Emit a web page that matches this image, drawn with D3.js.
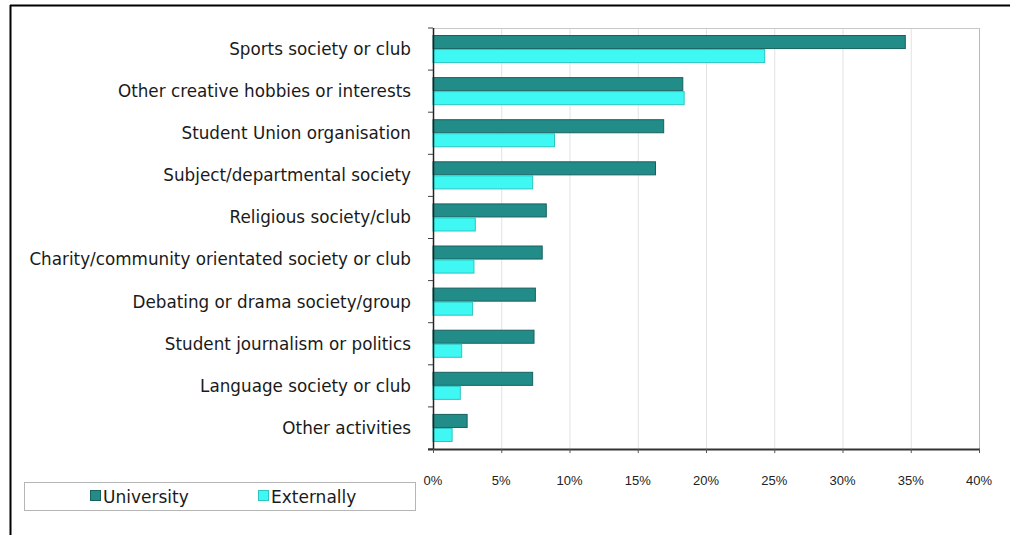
<!DOCTYPE html>
<html><head><meta charset="utf-8">
<script src="https://cdn.jsdelivr.net/npm/d3@7"></script>
<style>
html,body{margin:0;padding:0;background:#fff;}
svg{display:block;}
text{font-family:"Liberation Sans",Arial,sans-serif;}
.lab{font-family:"DejaVu Sans",Verdana,sans-serif;}
</style></head>
<body>
<svg id="chart" width="1010" height="535"></svg>
<script>
const categories = [
  "Sports society or club",
  "Other creative hobbies or interests",
  "Student Union organisation",
  "Subject/departmental society",
  "Religious society/club",
  "Charity/community orientated society or club",
  "Debating or drama society/group",
  "Student journalism or politics",
  "Language society or club",
  "Other activities"
];
const university = [34.6, 18.3, 16.9, 16.3, 8.3, 8.0, 7.5, 7.4, 7.3, 2.5];
const externally = [24.3, 18.4, 8.9, 7.3, 3.1, 3.0, 2.9, 2.1, 2.0, 1.4];
const seriesNames = ["University", "Externally"];
const xTicks = [0, 5, 10, 15, 20, 25, 30, 35, 40];

const colors = {University: "#228c89", Externally: "#40f8f3"};
const strokes = {University: "#17615f", Externally: "#2cc5c0"};

const svg = d3.select("#chart");
const m = {left: 433, right: 979, top: 28, bottom: 449};

// frame
svg.append("line").attr("x1", 10).attr("x2", 1010).attr("y1", 5.5).attr("y2", 5.5)
  .attr("stroke", "#000").attr("stroke-width", 2);
svg.append("line").attr("x1", 10.5).attr("x2", 10.5).attr("y1", 5).attr("y2", 535)
  .attr("stroke", "#000").attr("stroke-width", 2);

const x = d3.scaleLinear().domain([0, 40]).range([m.left, m.right]);
const y = d3.scaleBand().domain(categories).range([m.top, m.bottom]).paddingInner(0.333).paddingOuter(0.1667);
const ySub = d3.scaleBand().domain(seriesNames).range([0, y.bandwidth()]);

// gridlines
svg.append("g").selectAll("line").data(xTicks.slice(1)).join("line")
  .attr("x1", d => x(d) + 0.5).attr("x2", d => x(d) + 0.5)
  .attr("y1", m.top).attr("y2", m.bottom)
  .attr("stroke", d => d === 40 ? "#b8b8b8" : "#e2e2e2").attr("stroke-width", 1);
svg.append("line").attr("x1", m.left).attr("x2", m.right + 1).attr("y1", m.top + 0.5).attr("y2", m.top + 0.5)
  .attr("stroke", "#c8c8c8");

// bars
const rows = categories.map((c, i) => ({c, vals: [
  {s: "University", v: university[i]},
  {s: "Externally", v: externally[i]}
]}));
const g = svg.append("g").selectAll("g").data(rows).join("g")
  .attr("transform", d => `translate(0,${y(d.c)})`);
g.selectAll("rect").data(d => d.vals).join("rect")
  .attr("x", x(0))
  .attr("y", d => ySub(d.s) + 0.5)
  .attr("width", d => x(d.v) - x(0))
  .attr("height", ySub.bandwidth() - 1)
  .attr("fill", d => colors[d.s])
  .attr("stroke", d => strokes[d.s]).attr("stroke-width", 1);

// y axis
const yAxis = svg.append("g");
yAxis.append("line").attr("x1", m.left + 0.5).attr("x2", m.left + 0.5).attr("y1", m.top).attr("y2", m.bottom)
  .attr("stroke", "#222").attr("stroke-width", 1.5);
const boundaries = d3.range(categories.length + 1).map(i => m.top + i * (m.bottom - m.top) / categories.length);
yAxis.selectAll("line.t").data(boundaries).join("line").attr("class", "t")
  .attr("x1", m.left - 5).attr("x2", m.left).attr("y1", d => d).attr("y2", d => d)
  .attr("stroke", "#444");
yAxis.selectAll("text").data(categories).join("text").attr("class", "lab")
  .attr("x", 411).attr("y", d => y(d) + y.bandwidth() / 2)
  .attr("dy", "0.35em").attr("text-anchor", "end")
  .attr("font-size", 16.8).attr("fill", "#1a1a1a").text(d => d);

// x axis
const xAxis = svg.append("g");
xAxis.append("line").attr("x1", m.left - 5).attr("x2", m.right + 1).attr("y1", m.bottom + 0.5).attr("y2", m.bottom + 0.5)
  .attr("stroke", "#333").attr("stroke-width", 2);
xAxis.selectAll("line.t").data(xTicks).join("line").attr("class", "t")
  .attr("x1", d => x(d) + 0.5).attr("x2", d => x(d) + 0.5).attr("y1", m.bottom).attr("y2", m.bottom + 4)
  .attr("stroke", "#555");
xAxis.selectAll("text").data(xTicks).join("text")
  .attr("x", d => x(d)).attr("y", 480).attr("dy", "0.35em").attr("text-anchor", "middle")
  .attr("font-size", 13).attr("fill", "#222").text(d => d + "%");

// legend
const lg = svg.append("g");
lg.append("rect").attr("x", 24.5).attr("y", 482.5).attr("width", 391).attr("height", 28)
  .attr("fill", "#fff").attr("stroke", "#b5b5b5").attr("stroke-width", 1);
const legendPos = [90, 258];
seriesNames.forEach((s, i) => {
  lg.append("rect").attr("x", legendPos[i] + 0.5).attr("y", 490.5).attr("width", 10).attr("height", 10)
    .attr("fill", colors[s]).attr("stroke", strokes[s]);
  lg.append("text").attr("class", "lab").attr("x", legendPos[i] + 13).attr("y", 497).attr("dy", "0.35em")
    .attr("font-size", 17).attr("fill", "#1a1a1a").text(s);
});
</script>
</body></html>
